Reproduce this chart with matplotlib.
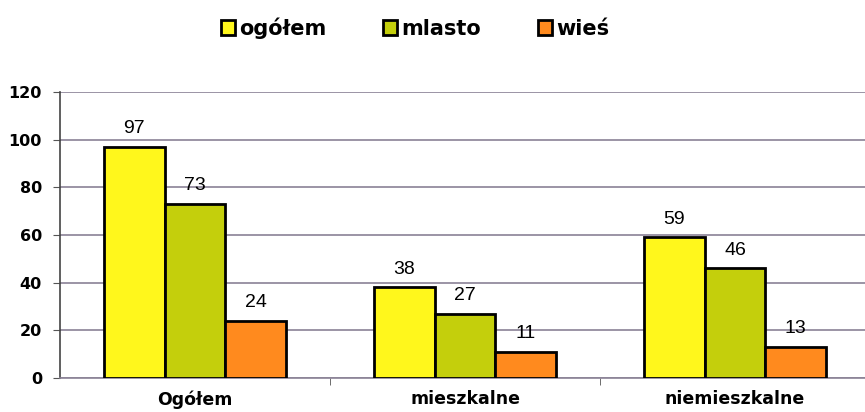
import matplotlib
matplotlib.use("Agg")
import matplotlib.pyplot as plt
import numpy as np
from matplotlib.patches import Patch

categories = ["Ogółem", "mieszkalne", "niemieszkalne"]
series_names = ["ogółem", "mlasto", "wieś"]
ogolem = [97, 38, 59]
miasto = [73, 27, 46]
wies = [24, 11, 13]
yticks = [0, 20, 40, 60, 80, 100, 120]

colors = ["#FFF71C", "#C4CF0C", "#FF8A1E"]
W, H = 865, 412
fig = plt.figure(figsize=(W / 100, H / 100), dpi=100)
ax = fig.add_axes([60 / W, 1 - 378 / H, 810 / W, (378 - 92) / H])

x = np.arange(len(categories))
bw = 0.225
for i, (vals, c) in enumerate(zip([ogolem, miasto, wies], colors)):
    pos = x + (i - 1) * bw
    ax.bar(pos, vals, width=bw, color=c, edgecolor="black", linewidth=2, zorder=3)
    for p, v in zip(pos, vals):
        ax.text(p, v + 4, str(v), ha="center", va="bottom", fontsize=14,
                family="Liberation Sans", zorder=4)

ax.set_xlim(-0.5, 2.5)
ax.set_ylim(0, 120)
ax.set_yticks(yticks)
ax.set_yticklabels([str(t) for t in yticks], fontsize=11.5, fontweight="bold",
                   family="DejaVu Sans")
ax.grid(axis="y", color="#8a8296", linewidth=1.2, zorder=0)
ax.set_axisbelow(True)
ax.set_xticks([0.5, 1.5], minor=True)
ax.set_xticks(x)
ax.set_xticklabels(categories, fontsize=12.5, fontweight="bold", family="DejaVu Sans")
ax.tick_params(axis="x", which="major", length=0, pad=9)
ax.tick_params(axis="x", which="minor", length=5, color="#555555")
ax.tick_params(axis="y", length=5, color="#555555", pad=8)
for s in ["top", "right"]:
    ax.spines[s].set_visible(False)
ax.spines["left"].set_color("#444444")
ax.spines["left"].set_linewidth(1.2)
ax.spines["bottom"].set_color("#8a8296")
ax.spines["bottom"].set_linewidth(1.2)

handles = [Patch(facecolor=c, edgecolor="black", linewidth=2) for c in colors]
fig.legend(handles, series_names, loc="center", bbox_to_anchor=(415 / W, 1 - 28 / H),
           ncol=3, frameon=False, handlelength=0.7, handleheight=0.7,
           handletextpad=0.2, columnspacing=2.7,
           prop={"family": "DejaVu Sans", "weight": "bold", "size": 15})

fig.savefig("out.png", dpi=100)
